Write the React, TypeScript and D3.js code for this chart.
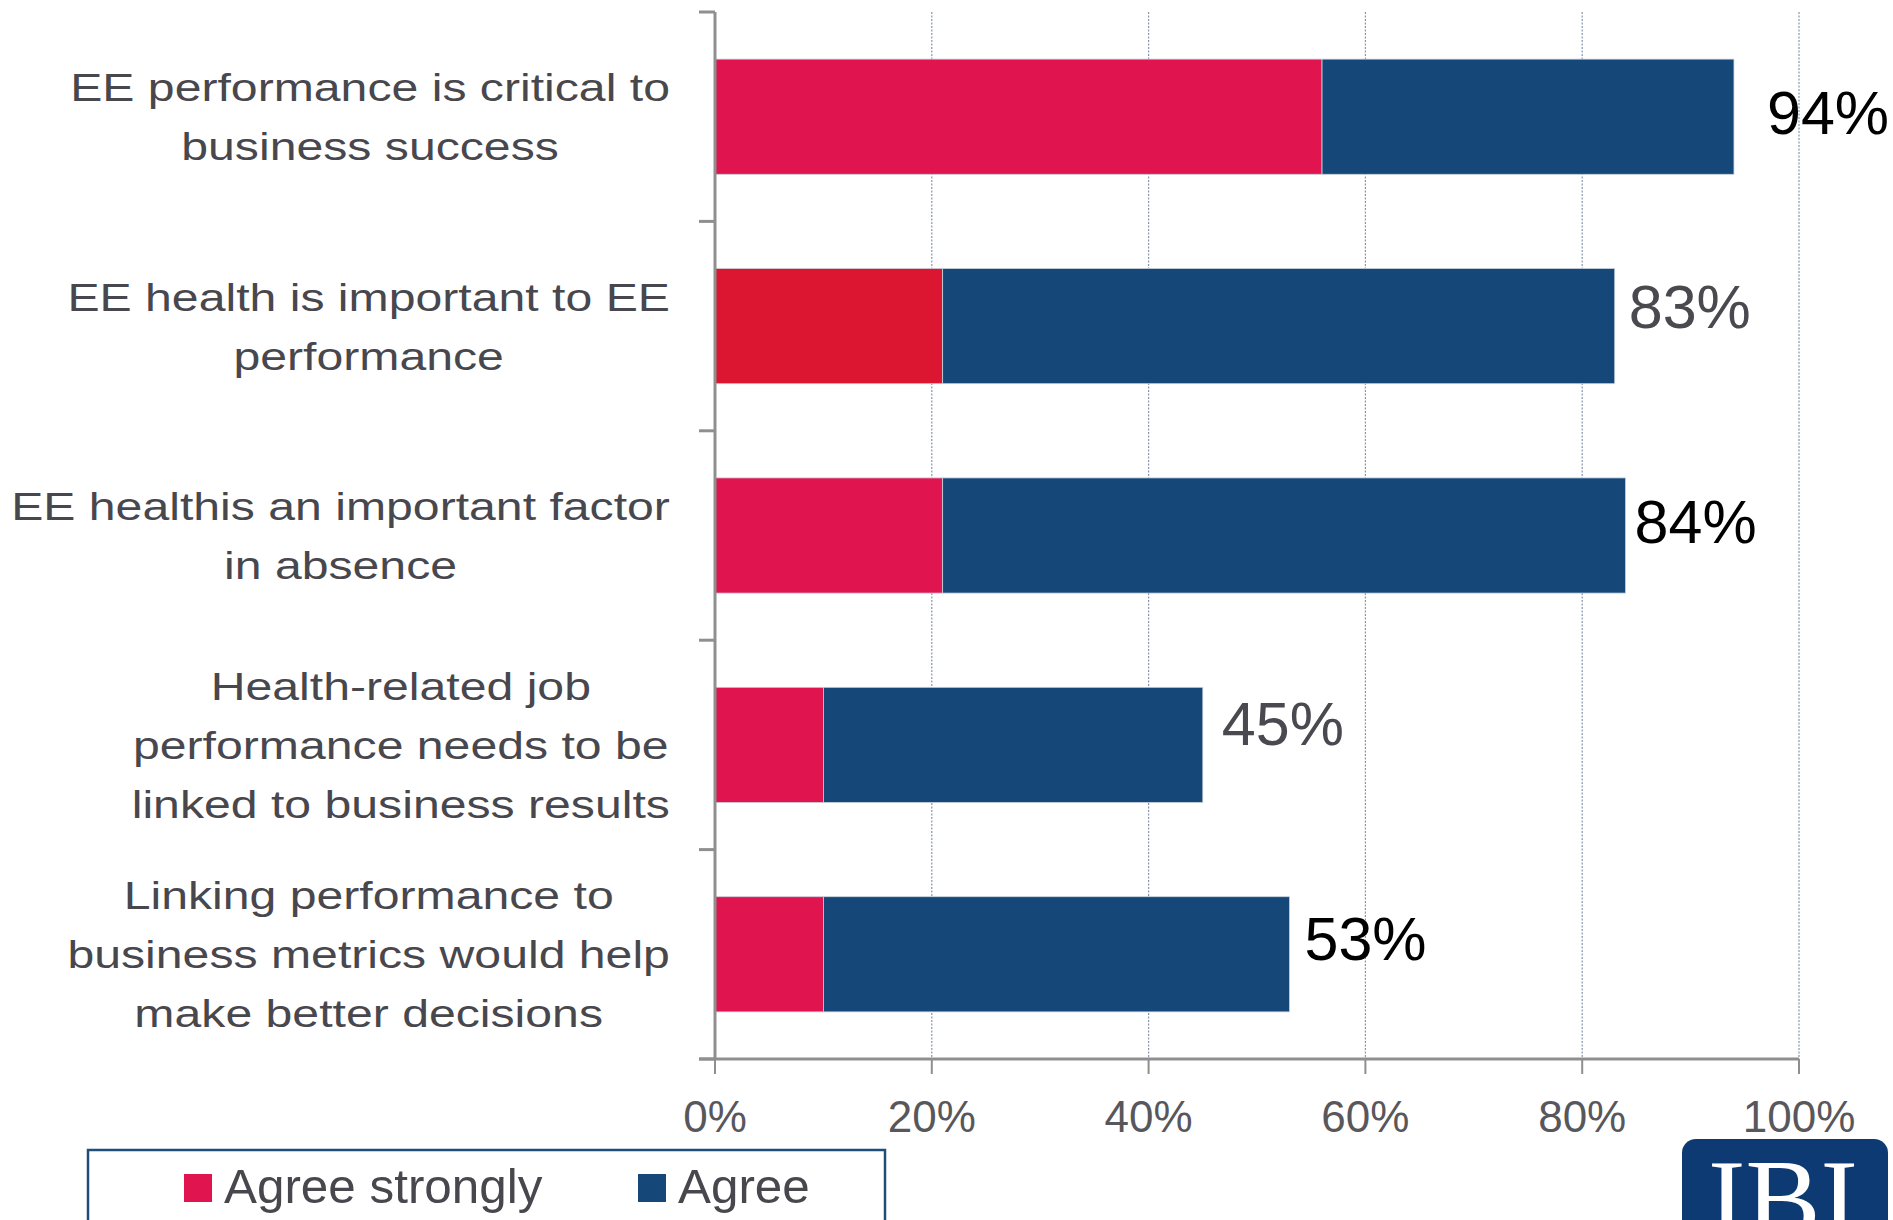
import React from "react";
import * as d3 from "d3";

// ---- data ----
const categoryLines: string[][] = [
  ["EE performance is critical to", "business success"],
  ["EE health is important to EE", "performance"],
  ["EE healthis an important factor", "in absence"],
  ["Health-related job", "performance needs to be", "linked to business results"],
  ["Linking performance to", "business metrics would help", "make better decisions"],
];
const agreeStrongly = [56, 21, 21, 10, 10];
const agree = [38, 62, 63, 35, 43];
const xTicks = [0, 20, 40, 60, 80, 100];
const seriesNames = ["Agree strongly", "Agree"];

// ---- styling / layout (not data) ----
const W = 1893;
const H = 1220;
const RED = "#E0144F";
const RED_ALT = "#DC1530";
const BLUE = "#154878";
const strongColors = [RED, RED_ALT, RED, RED, RED];
const valueColors = ["#000000", "#4a494f", "#000000", "#4a494f", "#000000"];
const valueNudge = [
  { dx: 33, dy: 17 },
  { dx: 14, dy: 2 },
  { dx: 9, dy: 7 },
  { dx: 19, dy: 0 },
  { dx: 15, dy: 6 },
];
const TEXT_GRAY = "#48474d";
const AXIS_GRAY = "#8f8f8f";
const GRID = "#8596ae";

const CAT_FONT = 39.5;
const CAT_SX = 1.22;
const CAT_LH = 59;
const CAT_CAP = 28;
const LABEL_RIGHT = 670;

function measure(text: string, font: string): number {
  const c = document.createElement("canvas");
  const ctx = c.getContext("2d");
  if (!ctx) return text.length * 20;
  ctx.font = font;
  return ctx.measureText(text).width;
}

export default function App() {
  const ids = categoryLines.map((_, i) => String(i));
  const x = d3.scaleLinear().domain([0, 100]).range([715, 1799]);
  const y = d3
    .scaleBand<string>()
    .domain(ids)
    .range([12, 1059])
    .paddingInner(0.45)
    .paddingOuter(0.225);
  const step = y.step();
  const y0 = 12;
  const y1 = 1059;
  const boundaries = d3.range(ids.length + 1).map((i) => y0 + i * step);

  const catFont = `${CAT_FONT}px 'Liberation Sans', Arial, sans-serif`;

  return (
    <svg
      width={W}
      height={H}
      viewBox={`0 0 ${W} ${H}`}
      style={{ position: "absolute", left: 0, top: 0, background: "#fff" }}
      fontFamily="'Liberation Sans', Arial, Helvetica, sans-serif"
    >
      <rect x={0} y={0} width={W} height={H} fill="#ffffff" />

      {/* gridlines */}
      {xTicks
        .filter((t) => t > 0)
        .map((t) => (
          <line
            key={"g" + t}
            x1={x(t)}
            x2={x(t)}
            y1={y0}
            y2={y1}
            stroke={GRID}
            strokeWidth={1.2}
            strokeDasharray="2,1.5"
          />
        ))}

      {/* bars */}
      {ids.map((id, i) => {
        const yy = y(id) as number;
        const bh = y.bandwidth();
        const s = agreeStrongly[i];
        const a = agree[i];
        return (
          <g key={"b" + id}>
            <rect
              x={x(0)}
              y={yy}
              width={x(s) - x(0)}
              height={bh}
              fill={strongColors[i]}
              stroke="#c9ced8"
              strokeWidth={0.8}
            />
            <rect
              x={x(s)}
              y={yy}
              width={x(s + a) - x(s)}
              height={bh}
              fill={BLUE}
              stroke="#c9d2de"
              strokeWidth={0.8}
            />
          </g>
        );
      })}

      {/* y axis */}
      <line x1={x(0)} x2={x(0)} y1={y0} y2={y1} stroke={AXIS_GRAY} strokeWidth={3} />
      {boundaries.map((b, i) => (
        <line key={"yt" + i} x1={x(0) - 16} x2={x(0)} y1={b} y2={b} stroke={AXIS_GRAY} strokeWidth={3} />
      ))}

      {/* x axis */}
      <line x1={x(0) - 16} x2={x(100)} y1={y1} y2={y1} stroke={AXIS_GRAY} strokeWidth={3} />
      {xTicks.map((t) => (
        <g key={"xt" + t}>
          <line x1={x(t)} x2={x(t)} y1={y1} y2={y1 + 15} stroke={AXIS_GRAY} strokeWidth={2} />
          <text x={x(t)} y={1132} textAnchor="middle" fontSize={44} fill="#58575c">
            {t + "%"}
          </text>
        </g>
      ))}

      {/* value labels */}
      {ids.map((id, i) => {
        const total = agreeStrongly[i] + agree[i];
        const cy = (y(id) as number) + y.bandwidth() / 2;
        return (
          <text
            key={"v" + id}
            x={x(total) + valueNudge[i].dx}
            y={cy + valueNudge[i].dy}
            fontSize={61}
            fill={valueColors[i]}
          >
            {total + "%"}
          </text>
        );
      })}

      {/* category labels */}
      {categoryLines.map((lines, i) => {
        const cy = (y(ids[i]) as number) + y.bandwidth() / 2;
        const maxW = d3.max(lines, (l) => measure(l, catFont)) as number;
        const cx = LABEL_RIGHT - (maxW * CAT_SX) / 2;
        const total = (lines.length - 1) * CAT_LH + CAT_CAP;
        const firstBase = cy - total / 2 + CAT_CAP;
        return (
          <g key={"c" + i}>
            {lines.map((l, j) => (
              <g key={j} transform={`translate(${cx},${firstBase + j * CAT_LH}) scale(${CAT_SX},1)`}>
                <text x={0} y={0} textAnchor="middle" fontSize={CAT_FONT} fill={TEXT_GRAY}>
                  {l}
                </text>
              </g>
            ))}
          </g>
        );
      })}

      {/* legend */}
      <rect x={88} y={1150} width={797} height={120} fill="#fff" stroke="#1f4e79" strokeWidth={2.5} />
      {seriesNames.map((name, i) => {
        const lx = i === 0 ? 184 : 638;
        return (
          <g key={"l" + i}>
            <rect x={lx} y={1174} width={28} height={28} fill={i === 0 ? RED : BLUE} />
            <g transform={`translate(${lx + 40},1203) scale(1.04,1)`}>
              <text x={0} y={0} fontSize={47.5} fill={TEXT_GRAY}>
                {name}
              </text>
            </g>
          </g>
        );
      })}

      {/* logo */}
      <rect x={1682} y={1139} width={206} height={120} rx={14} ry={14} fill="#0d3a72" />
      <text
        x={1783}
        y={1237}
        textAnchor="middle"
        fontSize={112}
        fill="#ffffff"
        fontFamily="'Liberation Serif', 'Times New Roman', serif"
        textLength={150}
        lengthAdjust="spacingAndGlyphs"
      >
        IBI
      </text>
    </svg>
  );
}
